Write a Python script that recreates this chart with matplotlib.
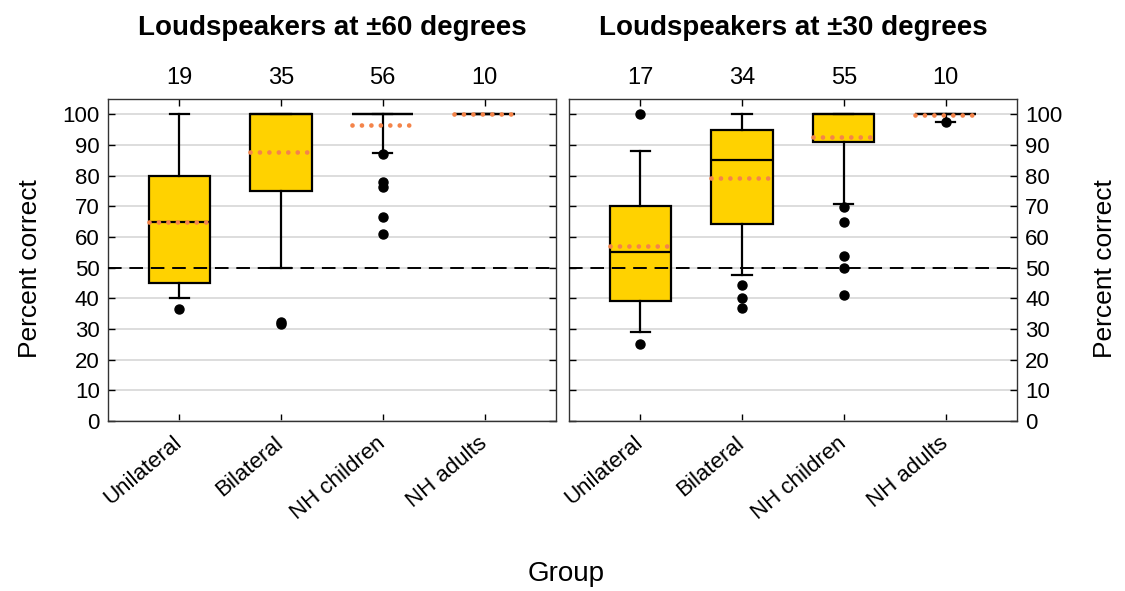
import matplotlib
matplotlib.use("Agg")
import matplotlib.pyplot as plt

plt.rcParams['font.family'] = ['Liberation Sans', 'DejaVu Sans']

groups = ["Unilateral", "Bilateral", "NH children", "NH adults"]
titles = ["Loudspeakers at \u00b160 degrees", "Loudspeakers at \u00b130 degrees"]

# Panel 1 (±60 degrees)
n_60 = [19, 35, 56, 10]
q1_60 = [45, 75, 100, 100]
med_60 = [65, 100, 100, 100]
q3_60 = [80, 100, 100, 100]
whislo_60 = [40, 50, 87.3, 100]
whishi_60 = [100, 100, 100, 100]
mean_60 = [65, 87.6, 96.6, 100]
fliers_60 = [[36.4], [31.6, 32.2], [87.0, 77.8, 76.3, 66.5, 61.1], []]

# Panel 2 (±30 degrees)
n_30 = [17, 34, 55, 10]
q1_30 = [39.2, 64.3, 91, 100]
med_30 = [55, 85, 100, 100]
q3_30 = [70, 95, 100, 100]
whislo_30 = [29, 47.7, 70.7, 97.6]
whishi_30 = [88, 100, 100, 100]
mean_30 = [57.2, 79.3, 92.6, 99.8]
fliers_30 = [[25, 100], [44.5, 40, 37], [69.8, 64.9, 53.7, 49.8, 41.1], [97.6]]

panels = [
    (n_60, q1_60, med_60, q3_60, whislo_60, whishi_60, mean_60, fliers_60),
    (n_30, q1_30, med_30, q3_30, whislo_30, whishi_30, mean_30, fliers_30),
]

BOX_COLOR = "#FFD200"
MEAN_COLOR = "#F4844A"
GRID_COLOR = "#D3D3D3"

fig = plt.figure(figsize=(11.25, 5.91), dpi=100)
axes = [fig.add_axes([0.096, 0.2876, 0.398, 0.5448]),
        fig.add_axes([0.5058, 0.2876, 0.398, 0.5448])]

positions = [1, 2, 3, 4]
for k, (ax, p) in enumerate(zip(axes, panels)):
    n, q1, med, q3, wlo, whi, mean, fl = p
    stats = []
    for i in range(4):
        stats.append(dict(med=med[i], q1=q1[i], q3=q3[i], whislo=wlo[i],
                          whishi=whi[i], fliers=fl[i], label=groups[i]))
    ax.bxp(stats, positions=positions, widths=0.6, capwidths=0.19,
           patch_artist=True, showfliers=True,
           boxprops=dict(facecolor=BOX_COLOR, edgecolor='black', linewidth=1.6),
           medianprops=dict(color='black', linewidth=1.6),
           whiskerprops=dict(color='black', linewidth=1.6),
           capprops=dict(color='black', linewidth=1.6),
           flierprops=dict(marker='o', markerfacecolor='black',
                           markeredgecolor='black', markersize=6.5),
           zorder=3)
    for i in range(4):
        ax.plot([positions[i] - 0.3, positions[i] + 0.3], [mean[i], mean[i]],
                color=MEAN_COLOR, linewidth=3.4, linestyle=(0, (0.001, 2.0)),
                dash_capstyle='round', zorder=5)
    ax.axhline(50, color='black', linewidth=1.4, linestyle=(0, (7, 4)), zorder=4)
    ax.set_ylim(0, 105)
    ax.set_xlim(0.3, 4.7)
    ax.set_yticks(range(0, 101, 10))
    ax.yaxis.grid(True, color=GRID_COLOR, linewidth=1.1, zorder=0)
    ax.set_axisbelow(True)
    ax.set_xticks(positions)
    ax.set_xticklabels(groups, rotation=40, ha='right', va='center',
                       rotation_mode='anchor', fontsize=16)
    ax.tick_params(axis='both', direction='in', top=True, right=True,
                   left=True, bottom=True, length=5, width=1, labelsize=16,
                   pad=6)
    ax.tick_params(axis='x', pad=14)
    for s in ax.spines.values():
        s.set_linewidth(1.0)
        s.set_color('#333333')
    ax.set_title(titles[k], fontsize=20, fontweight='bold', pad=46)
    for i in range(4):
        ax.text(positions[i], 1.03, str(n[i]), transform=ax.get_xaxis_transform(),
                ha='center', va='bottom', fontsize=17)

axes[1].yaxis.tick_right()
axes[1].tick_params(axis='y', left=True, right=True, labelleft=False, labelright=True)

fig.text(0.027, 0.545, "Percent correct", rotation=90, ha='center', va='center',
         fontsize=19)
fig.text(0.982, 0.545, "Percent correct", rotation=90, ha='center', va='center',
         fontsize=19)
fig.text(0.503, 0.006, "Group", ha='center', va='bottom', fontsize=20)

fig.savefig("out.png", dpi=100)
